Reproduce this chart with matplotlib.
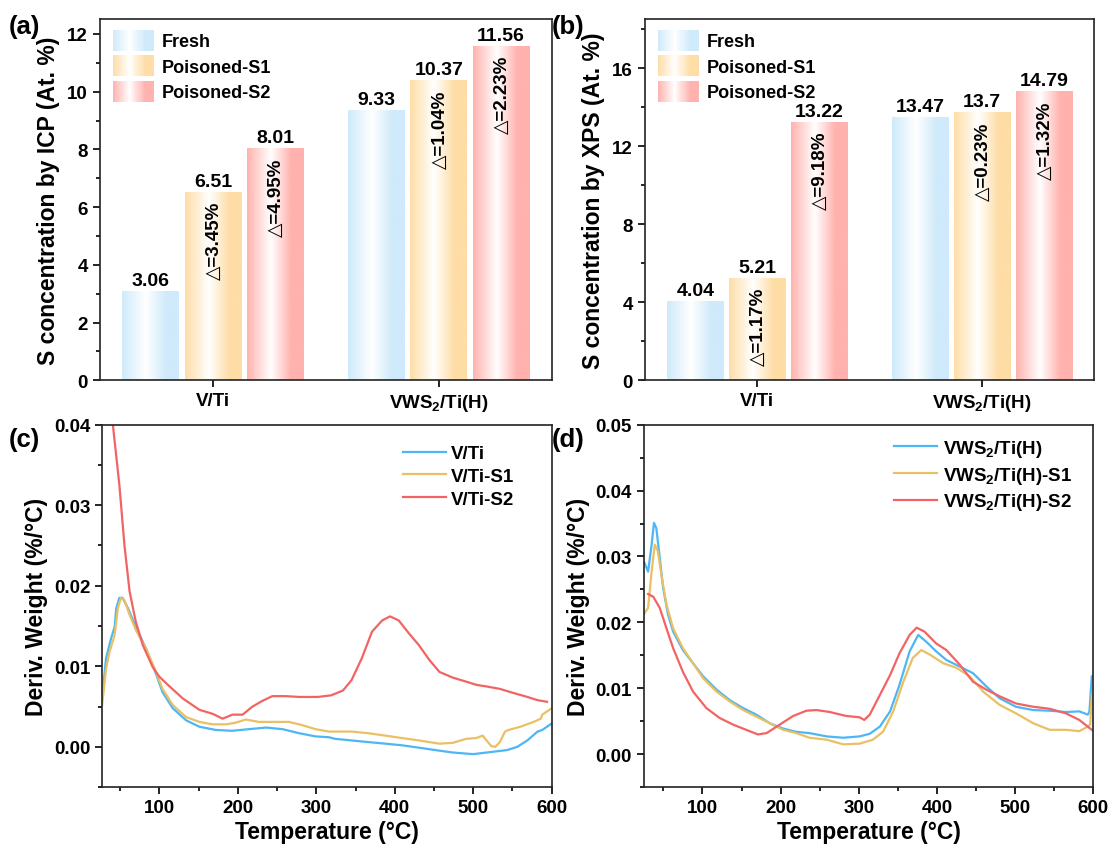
import numpy as np
import matplotlib
matplotlib.use("Agg")
import matplotlib.pyplot as plt
from matplotlib.colors import LinearSegmentedColormap
from matplotlib.patches import Rectangle
from matplotlib.legend_handler import HandlerBase
from matplotlib.ticker import MultipleLocator

plt.rcParams['font.family'] = ['Liberation Sans', 'DejaVu Sans']
plt.rcParams['font.weight'] = 'bold'
plt.rcParams['axes.labelweight'] = 'bold'
plt.rcParams['mathtext.fontset'] = 'custom'
plt.rcParams['mathtext.rm'] = 'Liberation Sans:bold'
plt.rcParams['mathtext.bf'] = 'Liberation Sans:bold'
plt.rcParams['mathtext.default'] = 'bf'

# ---------------- data ----------------
groups = ['V/Ti', 'VWS$_2$/Ti(H)']
series_names = ['Fresh', 'Poisoned-S1', 'Poisoned-S2']

icp_fresh = [3.06, 9.33]
icp_s1 = [6.51, 10.37]
icp_s2 = [8.01, 11.56]
icp_delta_s1 = ['△=3.45%', '△=1.04%']
icp_delta_s2 = ['△=4.95%', '△=2.23%']

xps_fresh = [4.04, 13.47]
xps_s1 = [5.21, 13.7]
xps_s2 = [13.22, 14.79]
xps_delta_s1 = ['△=1.17%', '△=0.23%']
xps_delta_s2 = ['△=9.18%', '△=1.32%']

# panel (c) DTG curves
c_vti_T = [27, 32, 38.5, 43, 45, 49, 53, 60, 70, 83, 94, 104, 117, 134, 151, 172, 193, 214,
           236, 257, 278, 299, 316, 324, 345, 366, 388, 409, 431, 452, 474, 500, 517, 543,
           556, 569, 582, 588, 600]
c_vti_v = [0.006, 0.011, 0.0135, 0.0149, 0.0172, 0.0185, 0.0185, 0.0172, 0.0149, 0.0122,
           0.0095, 0.0068, 0.0048, 0.0033, 0.0025, 0.0021, 0.0020, 0.0022, 0.0024, 0.0022,
           0.0017, 0.0013, 0.0012, 0.0010, 0.0008, 0.0006, 0.0004, 0.0002, -0.0001, -0.0004,
           -0.0007, -0.0009, -0.0007, -0.0004, 0.0, 0.0008, 0.0019, 0.0021, 0.0029]

c_s1_T = [27, 32, 36.5, 43, 47, 51, 55.5, 62, 70, 83, 94, 104, 117, 134, 151, 168, 185, 197,
          210, 227, 248, 265, 282, 299, 316, 324, 345, 366, 388, 409, 431, 457, 474, 491, 504,
          512, 517, 523, 528, 534, 540.5, 545, 560, 577, 586, 588, 600]
c_s1_v = [0.0052, 0.0097, 0.0118, 0.0139, 0.0172, 0.0185, 0.0182, 0.0164, 0.0145, 0.0122,
          0.0097, 0.0072, 0.0052, 0.0037, 0.0031, 0.0028, 0.0028, 0.0030, 0.0034, 0.0031,
          0.0031, 0.0031, 0.0027, 0.0022, 0.0019, 0.0019, 0.0019, 0.0017, 0.0014, 0.0011,
          0.0008, 0.0004, 0.0005, 0.0010, 0.0011, 0.0014, 0.0008, 0.0001, 0.0, 0.0006,
          0.0019, 0.0021, 0.0025, 0.0031, 0.0035, 0.0040, 0.0048]

c_s2_T = [34, 37, 40.7, 49, 55.5, 62, 70, 79, 91.5, 100, 113, 130, 151, 168, 180.5, 193,
          206, 218.6, 231, 244, 261, 278, 302, 319, 334, 345, 358, 371, 384, 394, 405, 418,
          431, 444, 457, 474, 491, 504, 517, 534, 551, 569, 582, 594]
c_s2_v = [0.047, 0.0435, 0.040, 0.0325, 0.025, 0.0193, 0.0155, 0.0126, 0.0099, 0.0087,
          0.0075, 0.0060, 0.0046, 0.0041, 0.0035, 0.0040, 0.0040, 0.0050, 0.0057, 0.0063,
          0.0063, 0.0062, 0.0062, 0.0064, 0.0070, 0.0083, 0.0110, 0.0143, 0.0157, 0.0162,
          0.0157, 0.0141, 0.0126, 0.0108, 0.0093, 0.0086, 0.0081, 0.0077, 0.0075, 0.0072,
          0.0067, 0.0062, 0.0058, 0.0056]

# panel (d) DTG curves
d_vws_T = [26, 30.5, 35, 38, 41, 45.4, 49.7, 56, 62.5, 75, 88, 101, 118, 135, 152, 169, 186,
           203, 220, 237, 259, 280, 301, 314, 327, 340, 352, 365, 376, 386, 399, 412, 429,
           446, 463, 480, 501, 523, 544, 565, 582, 593, 595, 598]
d_vws_v = [0.029, 0.0277, 0.0318, 0.0351, 0.0343, 0.0298, 0.0252, 0.0212, 0.0186, 0.0158,
           0.0138, 0.0118, 0.0098, 0.0082, 0.0070, 0.0060, 0.0047, 0.0039, 0.0034, 0.0032,
           0.0027, 0.0025, 0.0027, 0.0031, 0.0042, 0.0065, 0.0105, 0.0156, 0.0181, 0.0171,
           0.0156, 0.0143, 0.0133, 0.0123, 0.0103, 0.0085, 0.0072, 0.0067, 0.0066, 0.0064,
           0.0065, 0.0060, 0.0065, 0.0118]

d_s1_T = [26, 30.5, 35, 39, 43, 47.5, 54, 62.5, 75, 88, 101, 118, 135, 152, 169, 186, 203,
          220, 237, 259, 280, 301, 318, 331, 344, 357, 369, 380, 391, 408, 425, 442, 459,
          480, 501, 523, 544, 565, 582, 593, 596, 598]
d_s1_v = [0.0214, 0.0222, 0.0277, 0.0318, 0.0308, 0.0272, 0.0227, 0.0191, 0.0161, 0.0138,
          0.0115, 0.0095, 0.0080, 0.0067, 0.0057, 0.0047, 0.0037, 0.0032, 0.0025, 0.0022,
          0.0015, 0.0016, 0.0022, 0.0034, 0.0065, 0.0110, 0.0146, 0.0158, 0.0151, 0.0138,
          0.0131, 0.0118, 0.0095, 0.0075, 0.0062, 0.0047, 0.0037, 0.0037, 0.0035, 0.0042,
          0.0045, 0.0090]

d_s2_T = [30.5, 37, 45.4, 54, 62.5, 75, 88, 105, 122, 139, 156, 171, 182, 199, 216, 233,
          246, 263, 284, 301, 307, 314, 327, 340, 352, 365, 374, 384, 399, 412, 429, 446,
          463, 480, 501, 523, 544, 565, 582, 598]
d_s2_v = [0.0243, 0.0239, 0.0222, 0.0191, 0.0161, 0.0125, 0.0095, 0.0070, 0.0055, 0.0045,
          0.0037, 0.0030, 0.0032, 0.0045, 0.0058, 0.0066, 0.0067, 0.0064, 0.0058, 0.0056,
          0.0052, 0.0060, 0.0090, 0.0120, 0.0153, 0.0181, 0.0192, 0.0186, 0.0168, 0.0158,
          0.0136, 0.0110, 0.0098, 0.0088, 0.0077, 0.0072, 0.0069, 0.0062, 0.0052, 0.0037]

# ---------------- styles ----------------
bar_colors = ['#CFEAFB', '#FEDDA6', '#FFB2AE']
line_colors = ['#4DB6F5', '#E9C063', '#F26464']

fig = plt.figure(figsize=(11.10, 8.53), dpi=100)
ax_a = fig.add_axes([0.090, 0.553, 0.407, 0.423])
ax_b = fig.add_axes([0.581, 0.553, 0.405, 0.423])
ax_c = fig.add_axes([0.092, 0.076, 0.405, 0.425])
ax_d = fig.add_axes([0.580, 0.076, 0.405, 0.425])


def make_cmap(c):
    return LinearSegmentedColormap.from_list('g', [(0, c), (0.42, 'white'), (0.78, c), (1, c)])


cmaps = [make_cmap(c) for c in bar_colors]


class GradHandler(HandlerBase):
    def __init__(self, cmap):
        super().__init__()
        self.cmap = cmap

    def create_artists(self, legend, orig_handle, xdescent, ydescent, width, height, fontsize, trans):
        n = 40
        arts = []
        for i in range(n):
            col = self.cmap((i + 0.5) / n)
            r = Rectangle((-xdescent + i * width / n, -ydescent - 0.15 * height), width / n * 1.05,
                          height * 1.3, facecolor=col, edgecolor='none', transform=trans)
            arts.append(r)
        return arts


def bar_panel(ax, fresh, s1, s2, d1, d2, ylim, major, minor, ylabel):
    x = np.arange(len(groups))
    w = 0.25
    offs = [-0.275, 0, 0.275]
    grad = np.linspace(0, 1, 256).reshape(1, -1)
    for vals, off, cm in zip([fresh, s1, s2], offs, cmaps):
        bars = ax.bar(x + off, vals, w, color='none', edgecolor='none')
        for b, v in zip(bars, vals):
            x0 = b.get_x()
            ax.imshow(grad, cmap=cm, extent=[x0, x0 + w, 0, v], aspect='auto', zorder=2,
                      interpolation='bicubic')
            ax.annotate(f'{v:g}', (x0 + w / 2, v), xytext=(0, 2), textcoords='offset points',
                        ha='center', va='bottom', fontsize=14, fontweight='bold')
    for vals, labels, off in [(s1, d1, offs[1]), (s2, d2, offs[2])]:
        for xi, v, lab in zip(x, vals, labels):
            ax.annotate(lab, (xi + off, v), xytext=(1, -6), textcoords='offset points',
                        ha='center', va='top', rotation=90, fontsize=13.5, fontweight='bold')
    ax.set_xlim(-0.5, 1.5)
    ax.set_ylim(*ylim)
    ax.set_xticks(x)
    ax.set_xticklabels(groups)
    ax.yaxis.set_major_locator(MultipleLocator(major))
    ax.yaxis.set_minor_locator(MultipleLocator(minor))
    ax.set_ylabel(ylabel, fontsize=16.5, labelpad=5)
    proxies = [Rectangle((0, 0), 1, 1) for _ in series_names]
    ax.legend(proxies, series_names, loc='upper left', frameon=False, fontsize=13,
              handler_map={p: GradHandler(cm) for p, cm in zip(proxies, cmaps)},
              handlelength=2.3, handleheight=1.0, labelspacing=0.4, handletextpad=0.4,
              borderaxespad=0.3, bbox_to_anchor=(0.0, 1.0))


bar_panel(ax_a, icp_fresh, icp_s1, icp_s2, icp_delta_s1, icp_delta_s2, (0, 12.5), 2, 1,
          'S concentration by ICP (At. %)')
bar_panel(ax_b, xps_fresh, xps_s1, xps_s2, xps_delta_s1, xps_delta_s2, (0, 18.5), 4, 2,
          'S concentration by XPS (At. %)')

lw = 1.6
ax_c.plot(c_vti_T, c_vti_v, color=line_colors[0], lw=lw, label='V/Ti')
ax_c.plot(c_s1_T, c_s1_v, color=line_colors[1], lw=lw, label='V/Ti-S1')
ax_c.plot(c_s2_T, c_s2_v, color=line_colors[2], lw=lw, label='V/Ti-S2')
ax_c.set_xlim(27, 600)
ax_c.set_ylim(-0.005, 0.04)
ax_c.yaxis.set_major_locator(MultipleLocator(0.01))
ax_c.yaxis.set_minor_locator(MultipleLocator(0.005))

ax_d.plot(d_vws_T, d_vws_v, color=line_colors[0], lw=lw, label='VWS$_2$/Ti(H)')
ax_d.plot(d_s1_T, d_s1_v, color=line_colors[1], lw=lw, label='VWS$_2$/Ti(H)-S1')
ax_d.plot(d_s2_T, d_s2_v, color=line_colors[2], lw=lw, label='VWS$_2$/Ti(H)-S2')
ax_d.set_xlim(25, 600)
ax_d.set_ylim(-0.005, 0.05)
ax_d.yaxis.set_major_locator(MultipleLocator(0.01))
ax_d.yaxis.set_minor_locator(MultipleLocator(0.005))

for ax, anchor in ((ax_c, (0.955, 0.99)), (ax_d, (0.99, 1.01))):
    ax.xaxis.set_major_locator(MultipleLocator(100))
    ax.xaxis.set_minor_locator(MultipleLocator(50))
    ax.set_xticks([100, 200, 300, 400, 500, 600])
    ax.yaxis.set_major_formatter(matplotlib.ticker.FormatStrFormatter('%.2f'))
    ax.set_xlabel('Temperature (°C)', fontsize=16.5, labelpad=3)
    ax.set_ylabel('Deriv. Weight (%/°C)', fontsize=16.5)
    ax.legend(loc='upper right', frameon=False, fontsize=13.5, handlelength=2.3,
              handletextpad=0.3, labelspacing=0.3, bbox_to_anchor=anchor)

for ax in (ax_a, ax_b, ax_c, ax_d):
    ax.tick_params(which='both', direction='out', labelsize=13.5, width=1.2)
    ax.tick_params(which='major', length=5)
    ax.tick_params(which='minor', length=3)
    for lab in ax.get_xticklabels() + ax.get_yticklabels():
        lab.set_fontweight('bold')
    for s in ax.spines.values():
        s.set_linewidth(1.2)
        s.set_color('#222222')

fig.text(0.008, 0.960, '(a)', fontsize=18.5, fontweight='bold')
fig.text(0.497, 0.960, '(b)', fontsize=18.5, fontweight='bold')
fig.text(0.008, 0.476, '(c)', fontsize=18.5, fontweight='bold')
fig.text(0.497, 0.476, '(d)', fontsize=18.5, fontweight='bold')

fig.savefig('out.png', dpi=100)
